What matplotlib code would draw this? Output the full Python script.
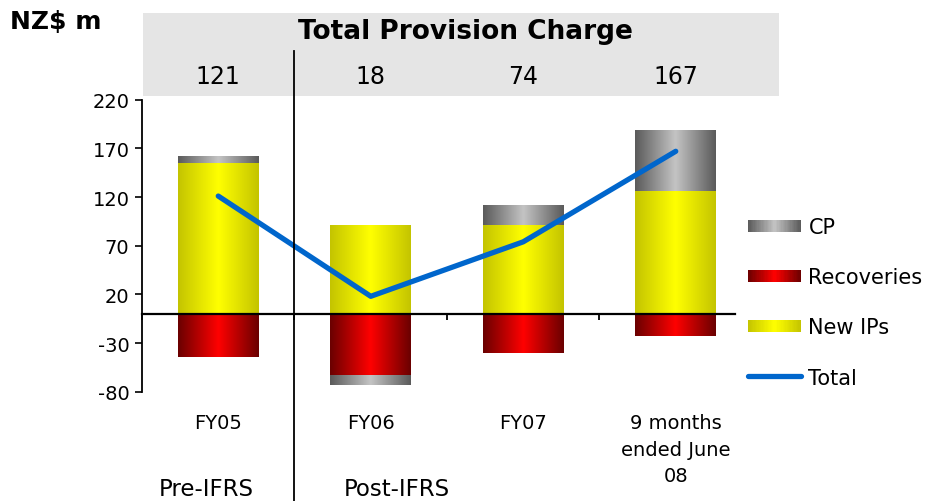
import numpy as np
import matplotlib
matplotlib.use("Agg")
import matplotlib.pyplot as plt
from matplotlib.colors import LinearSegmentedColormap
from matplotlib.patches import Rectangle
from matplotlib.lines import Line2D
from matplotlib.legend_handler import HandlerBase
import matplotlib.transforms as mtransforms

# Values (NZ$ m)
categories = ['FY05', 'FY06', 'FY07', '9 months\nended June\n08']
new_ips = [155, 91, 91, 126]
recoveries = [-44, -63, -40, -23]
cp = [7, -10, 20, 62]
total = [121, 18, 74, 167]
header_totals = ['121', '18', '74', '167']
y_ticks = [-80, -30, 20, 70, 120, 170, 220]

# Horizontal "cylinder" gradients: dark edges, bright middle
cmap_yellow = LinearSegmentedColormap.from_list('y', ['#c4c400', '#ffff00', '#c4c400'])
cmap_red = LinearSegmentedColormap.from_list('r', ['#6a0000', '#ff0000', '#6a0000'])
cmap_grey = LinearSegmentedColormap.from_list('g', ['#5a5a5a', '#c4c4c4', '#5a5a5a'])
grad = np.linspace(0, 1, 256).reshape(1, -1)

plt.rcParams['font.family'] = ['DejaVu Sans']
plt.rcParams['axes.unicode_minus'] = False

fig = plt.figure(figsize=(9.37, 5.02), dpi=100)
W, H = 937, 502
ax = fig.add_axes([142 / W, 1 - 392.7 / H, (752 - 142) / W, (392.7 - 100.7) / H])

x = np.arange(len(categories))
bar_w = 0.53

b_new = ax.bar(x, new_ips, bar_w, color='none')
b_rec = ax.bar(x, recoveries, bar_w, color='none')
cp_bottom = [n if c > 0 else r for n, r, c in zip(new_ips, recoveries, cp)]
b_cp = ax.bar(x, cp, bar_w, bottom=cp_bottom, color='none')


def paint(bars, cmap):
    for p in bars:
        x0, w = p.get_x(), p.get_width()
        y0, h = p.get_y(), p.get_height()
        ax.imshow(grad, cmap=cmap, extent=(x0, x0 + w, y0, y0 + h),
                  aspect='auto', interpolation='bicubic', zorder=2)


paint(b_new, cmap_yellow)
paint(b_rec, cmap_red)
paint(b_cp, cmap_grey)

ax.plot(x, total, color='#0066cc', lw=3.8, solid_capstyle='round',
        solid_joinstyle='round', zorder=4, label='Total')

ax.set_xlim(-0.5, 3.5)
ax.set_ylim(-80, 220)
ax.set_yticks(y_ticks)
ax.tick_params(axis='y', direction='out', length=5, width=1.2, labelsize=14, pad=4)
for s in ['top', 'right']:
    ax.spines[s].set_visible(False)
ax.spines['left'].set_linewidth(1.3)
ax.spines['left'].set_bounds(-80, 220)
ax.spines['bottom'].set_position(('data', 0))
ax.spines['bottom'].set_linewidth(1.6)
ax.spines['bottom'].set_bounds(-0.5, 3.39)
ax.spines['bottom'].set_zorder(3)
ax.set_xticks([])
ax.set_xticks(np.arange(-0.5, 3.0, 1.0), minor=True)
ax.tick_params(axis='x', which='minor', direction='out', length=4, width=1.3)

# category labels under the plot
lab_tr = mtransforms.blended_transform_factory(ax.transData, fig.transFigure)
for xi, lab in zip(x, categories):
    ax.text(xi, 1 - 414 / H, lab, transform=lab_tr, ha='center', va='top',
            fontsize=14, linespacing=1.5)
ax.text(-0.08, 1 - 490 / H, 'Pre-IFRS', transform=lab_tr, ha='center', va='center', fontsize=16.5)
ax.text(1.17, 1 - 490 / H, 'Post-IFRS', transform=lab_tr, ha='center', va='center', fontsize=16.5)

# header band
fig.patches.append(Rectangle((143 / W, 1 - 97 / H), (779 - 143) / W, 83 / H,
                             transform=fig.transFigure, facecolor='#e5e5e5',
                             edgecolor='none', zorder=-1))
fig.text(465 / W, 1 - 32 / H, 'Total Provision Charge', ha='center', va='center',
         fontsize=19, fontweight='bold')
for xi, t in zip(x, header_totals):
    ax.text(xi, 1 - 77 / H, t, transform=lab_tr, ha='center', va='center', fontsize=17)
fig.text(10 / W, 1 - 22 / H, 'NZ$ m', ha='left', va='center', fontsize=18, fontweight='bold')

# Pre / Post IFRS divider
ax.axvline(0.5, ymin=(392.7 - 502) / 292, ymax=(392.7 - 52) / 292, color='black',
           lw=1.3, clip_on=False, zorder=5)


class GradientHandler(HandlerBase):
    def __init__(self, cmap):
        super().__init__()
        self.cmap = cmap

    def create_artists(self, legend, orig_handle, xdescent, ydescent, width, height,
                       fontsize, trans):
        n = 40
        h = height * 0.8
        y0 = -ydescent + (height - h) / 2
        arts = []
        for i in range(n):
            r = Rectangle((-xdescent + width * i / n, y0), width / n * 1.05, h,
                          facecolor=self.cmap((i + 0.5) / n), edgecolor='none',
                          transform=trans)
            arts.append(r)
        return arts


h_cp = Rectangle((0, 0), 1, 1)
h_rec = Rectangle((0, 0), 1, 1)
h_new = Rectangle((0, 0), 1, 1)
h_tot = Line2D([], [], color='#0066cc', lw=3.8, solid_capstyle='round')
fig.legend([h_cp, h_rec, h_new, h_tot], ['CP', 'Recoveries', 'New IPs', 'Total'],
           handler_map={h_cp: GradientHandler(cmap_grey),
                        h_rec: GradientHandler(cmap_red),
                        h_new: GradientHandler(cmap_yellow)},
           loc='upper left', bbox_to_anchor=(748 / W, 1 - 218 / H), frameon=False,
           fontsize=15, handlelength=2.55, handletextpad=0.35, labelspacing=1.45,
           borderpad=0, borderaxespad=0)

fig.savefig('out.png', dpi=100)
